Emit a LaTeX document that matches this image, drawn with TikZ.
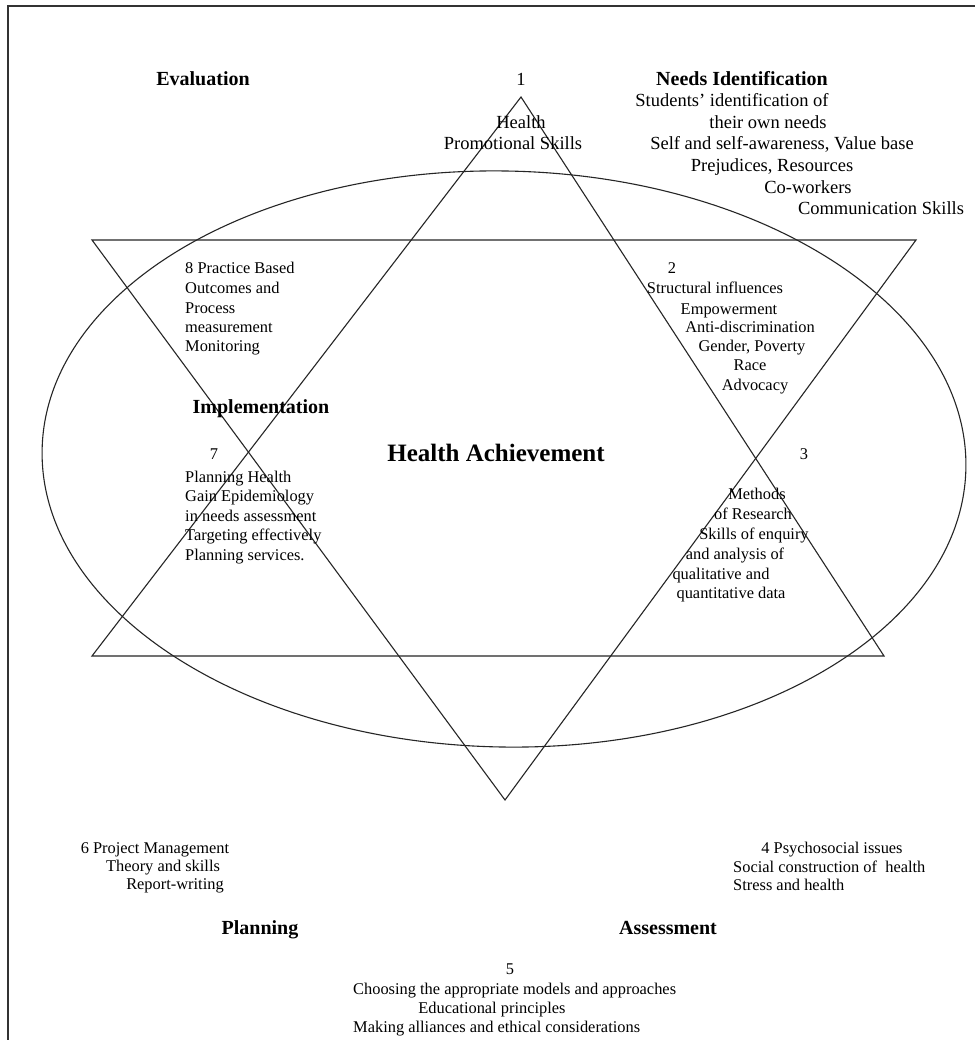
\documentclass[tikz,border=0pt]{standalone}
\usepackage{fontspec}
\setmainfont{Liberation Serif}
\begin{document}
\begin{tikzpicture}[x=1pt,y=-1pt,
  shape line/.style={draw=black!85, line width=1.1pt},
  frame line/.style={draw=black!80, line width=2pt},
  head/.style={font=\fontsize{20}{24}\selectfont\bfseries, inner sep=0pt, anchor=base},
  title/.style={font=\fontsize{25}{30}\selectfont\bfseries, inner sep=0pt, anchor=base},
  lrg/.style={font=\fontsize{18.5}{22}\selectfont, inner sep=0pt, anchor=base},
  sml/.style={font=\fontsize{16.4}{19}\selectfont, inner sep=0pt, anchor=base},
  smlw/.style={sml, anchor=base west}]
\useasboundingbox (0,0) rectangle (975,1040);
\fill[white] (0,0) rectangle (975,1040);
% frame (top and left edges visible)
\draw[frame line] (8,1040) -- (8,6) -- (975,6);
% ellipse
\draw[shape line, rotate around={-1.2:(504,459)}] (504,459) ellipse [x radius=462, y radius=288];
% upward triangle
\coordinate (u1) at (521,97);
\coordinate (u2) at (884,656);
\coordinate (u3) at (92,656);
\draw[shape line, line join=miter] (u1) -- (u2) -- (u3) -- cycle;
% downward triangle
\coordinate (d1) at (92,240);
\coordinate (d2) at (916,240);
\coordinate (d3) at (505,800);
\draw[shape line, line join=miter] (d1) -- (d2) -- (d3) -- cycle;
% headings
\node[head] (hEval) at (203,86) {Evaluation};
\node[head] (hNeeds) at (742,86) {Needs Identification};
\node[head] (hImpl) at (261,413) {Implementation};
\node[head] (hPlan) at (260,934) {Planning};
\node[head] (hAss) at (668,934) {Assessment};
\node[title] (hHA) at (496,461) {Health Achievement};
% block 1
\node[lrg] (b1n) at (521,86) {1};
\node[lrg] (b1a) at (521,129) {Health};
\node[lrg] (b1b) at (513,150) {Promotional Skills};
% needs block
\node[lrg] (na) at (732,107) {Students’ identification of};
\node[lrg] (nb) at (768,129) {their own needs};
\node[lrg] (nc) at (782,150) {Self and self-awareness, Value base};
\node[lrg] (nd) at (772,172) {Prejudices, Resources};
\node[lrg] (ne) at (808,194) {Co-workers};
\node[lrg] (nf) at (881,215) {Communication Skills};
% block 8
\node[smlw] (b8a) at (185,274) {8 Practice Based};
\node[smlw] (b8b) at (185,294) {Outcomes and};
\node[smlw] (b8c) at (185,313) {Process};
\node[smlw] (b8d) at (185,332) {measurement};
\node[smlw] (b8e) at (185,351) {Monitoring};
% block 2
\node[sml] (b2n) at (672,274) {2};
\node[sml] (b2a) at (715,294) {Structural influences};
\node[sml] (b2b) at (729,314) {Empowerment};
\node[sml] (b2c) at (750,332) {Anti-discrimination};
\node[sml] (b2d) at (752,351) {Gender, Poverty};
\node[sml] (b2e) at (750,370) {Race};
\node[sml] (b2f) at (755,390) {Advocacy};
% block 7
\node[sml] (b7n) at (214,459) {7};
\node[smlw] (b7a) at (185,482) {Planning Health};
\node[smlw] (b7b) at (185,501) {Gain Epidemiology};
\node[smlw] (b7c) at (185,521) {in needs assessment};
\node[smlw] (b7d) at (185,540) {Targeting effectively};
\node[smlw] (b7e) at (185,560) {Planning services.};
% block 3
\node[sml] (b3n) at (804,459) {3};
\node[sml] (b3a) at (757,499) {Methods};
\node[sml] (b3b) at (753,519) {of Research};
\node[sml] (b3c) at (754,539) {Skills of enquiry};
\node[sml] (b3d) at (735,559) {and analysis of};
\node[sml] (b3e) at (721,579) {qualitative and};
\node[sml] (b3f) at (731,598) {quantitative data};
% block 6
\node[sml] (b6a) at (155,853) {6 Project Management};
\node[sml] (b6b) at (163,871) {Theory and skills};
\node[sml] (b6c) at (175,889) {Report-writing};
% block 4
\node[sml] (b4a) at (832,853) {4 Psychosocial issues};
\node[smlw] (b4b) at (733,872) {Social construction of\ \ health};
\node[smlw] (b4c) at (733,890) {Stress and health};
% block 5
\node[sml] (b5n) at (510,974) {5};
\node[smlw] (b5a) at (353,994) {Choosing the appropriate models and approaches};
\node[sml] (b5b) at (492,1013) {Educational principles};
\node[smlw] (b5c) at (353,1032) {Making alliances and ethical considerations};
\end{tikzpicture}
\end{document}
